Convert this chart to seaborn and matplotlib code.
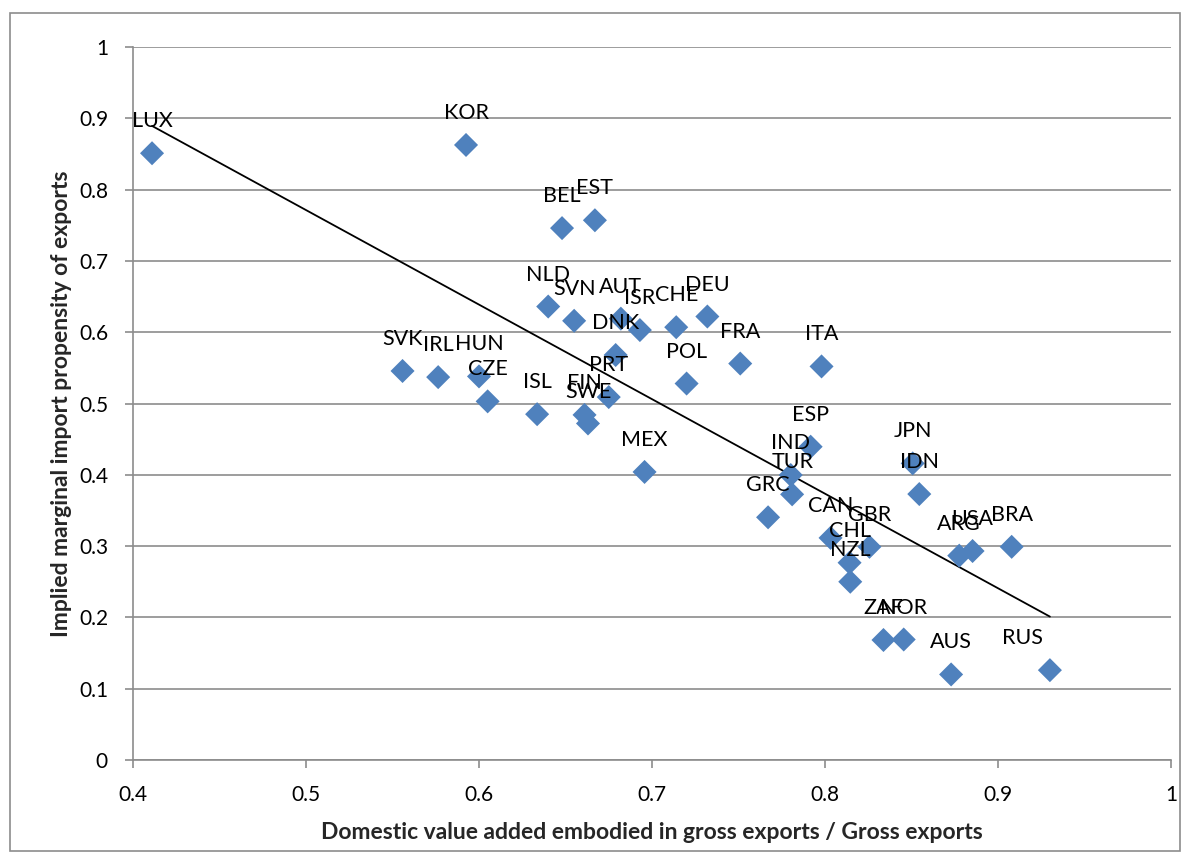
import numpy as np
import pandas as pd
import matplotlib
matplotlib.use("Agg")
import matplotlib.pyplot as plt
import seaborn as sns

countries = ["LUX", "KOR", "BEL", "EST", "NLD", "SVN", "AUT", "ISR", "CHE", "DEU",
             "FRA", "POL", "DNK", "PRT", "FIN", "SWE", "ISL", "CZE", "HUN", "IRL",
             "SVK", "MEX", "ITA", "ESP", "IND", "TUR", "GRC", "CAN", "GBR", "CHL",
             "NZL", "JPN", "IDN", "ARG", "USA", "BRA", "ZAF", "NOR", "AUS", "RUS"]
dva_share = [0.411, 0.5925, 0.648, 0.667, 0.640, 0.655, 0.682, 0.693, 0.714, 0.732,
             0.751, 0.720, 0.679, 0.675, 0.661, 0.663, 0.6336, 0.605, 0.600, 0.5764,
             0.5558, 0.6957, 0.798, 0.7917, 0.7802, 0.781, 0.7671, 0.8032, 0.8257, 0.8142,
             0.8146, 0.8507, 0.8545, 0.8776, 0.8853, 0.9079, 0.8338, 0.8455, 0.8729, 0.930]
import_prop = [0.851, 0.8626, 0.746, 0.757, 0.636, 0.616, 0.619, 0.603, 0.607, 0.622,
               0.556, 0.528, 0.568, 0.509, 0.484, 0.472, 0.485, 0.503, 0.538, 0.537,
               0.5456, 0.404, 0.552, 0.4394, 0.3997, 0.3726, 0.3404, 0.3115, 0.299, 0.2767,
               0.250, 0.416, 0.373, 0.2866, 0.2931, 0.299, 0.1683, 0.169, 0.120, 0.126]

xticks = [0.4, 0.5, 0.6, 0.7, 0.8, 0.9, 1.0]
yticks = [0, 0.1, 0.2, 0.3, 0.4, 0.5, 0.6, 0.7, 0.8, 0.9, 1.0]
xlabel = "Domestic value added embodied in gross exports / Gross exports"
ylabel = "Implied marginal import propensity of exports"

df = pd.DataFrame({"country": countries, "x": dva_share, "y": import_prop})

sns.set_theme(style="white")
plt.rcParams["font.family"] = ["Lato", "DejaVu Sans"]

fig = plt.figure(figsize=(11.9, 8.58), dpi=100)
ax = fig.add_axes([133 / 1190, 1 - 760 / 858, (1171 - 133) / 1190, (760 - 47) / 858])

# outer border
fig.patches.append(plt.Rectangle((10 / 1190, 1 - 851 / 858), 1170 / 1190, 838 / 858,
                                 transform=fig.transFigure, fill=False,
                                 edgecolor="#8c8c8c", linewidth=1.2))

ax.set_xlim(0.4, 1.0)
ax.set_ylim(0, 1.0)
ax.set_yticks(yticks)
ax.set_xticks(xticks)
fmt = lambda v: "0" if v == 0 else ("1" if v == 1 else f"{v:.1f}")
ax.set_yticklabels([fmt(v) for v in yticks])
ax.set_xticklabels([fmt(v) for v in xticks])
ax.grid(axis="y", color="#8c8c8c", linewidth=1.2)
ax.grid(axis="x", visible=False)
ax.set_axisbelow(True)

sns.scatterplot(data=df, x="x", y="y", marker="D", s=150, color="#4F81BD",
                edgecolor="none", ax=ax, zorder=3, legend=False)

# linear trendline
coef = np.polyfit(df["x"], df["y"], 1)
xs = np.array([df["x"].min(), df["x"].max()])
ax.plot(xs, np.polyval(coef, xs), color="black", linewidth=1.3, zorder=2)

for c, xv, yv in zip(countries, dva_share, import_prop):
    dx = -20 if c == "RUS" else 0
    ax.annotate(c, (xv, yv), xytext=(dx, 23), textcoords="offset points",
                ha="center", va="center", fontsize=15.5, color="black", zorder=4)

for side in ["top", "right"]:
    ax.spines[side].set_visible(False)
for side in ["left", "bottom"]:
    ax.spines[side].set_color("#8c8c8c")
    ax.spines[side].set_linewidth(1.2)
ax.tick_params(axis="both", which="major", direction="out", length=6, width=1.2,
               color="#8c8c8c", labelsize=15, labelcolor="black", left=True, bottom=True)
ax.tick_params(axis="y", pad=12)
ax.tick_params(axis="x", pad=12)

ax.set_xlabel(xlabel, fontsize=16.5, fontweight="bold", labelpad=12)
ax.set_ylabel(ylabel, fontsize=16.5, fontweight="bold", labelpad=5)

fig.savefig("out.png", dpi=100)
